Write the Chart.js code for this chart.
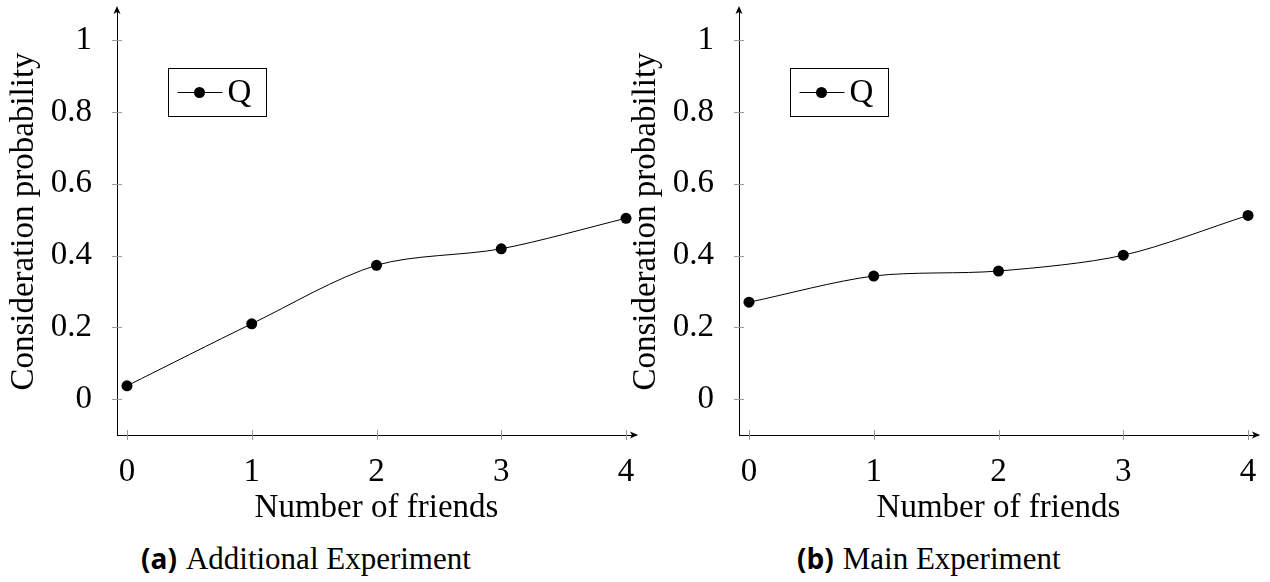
<!DOCTYPE html>
<html>
<head>
<meta charset="utf-8">
<script src="https://cdn.jsdelivr.net/npm/chart.js@4"></script>
<style>
  body { margin: 0; background: #fff; width: 1270px; height: 582px; overflow: hidden; position: relative; }
  .panel { position: absolute; top: 0; height: 530px; }
  .caption { position: absolute; top: 539px; font-family: "Liberation Serif", serif; font-size: 31px; white-space: nowrap; }
  .caption b { font-family: "Open Sans", sans-serif; font-weight: 700; font-size: 28px; margin-right: 9px; }
</style>
</head>
<body>
<div class="panel" style="left:0;width:650px"><canvas id="chartA" width="650" height="530"></canvas></div>
<div class="panel" style="left:622px;width:648px"><canvas id="chartB" width="648" height="530"></canvas></div>
<div class="caption" style="left:141px"><b>(a)</b>Additional Experiment</div>
<div class="caption" style="left:797px"><b>(b)</b>Main Experiment</div>
<script>
// number of friends on the x axis
var friends = [0, 1, 2, 3, 4];
// consideration probability, one array per experiment
var additionalExp = [0.037, 0.21, 0.373, 0.419, 0.504];
var mainExp = [0.27, 0.343, 0.357, 0.401, 0.512];
var seriesLabel = 'Q';
var yTicks = [0, 0.2, 0.4, 0.6, 0.8, 1];
var yTickLabels = ['0', '0.2', '0.4', '0.6', '0.8', '1'];
var xTicks = [0, 1, 2, 3, 4];
var xTickLabels = ['0', '1', '2', '3', '4'];

var serif = '"Liberation Serif", serif';

// pgfplots-ish axis: arrows, crossing tick marks, boxed legend inside the plot
var axisDeco = {
    id: 'axisDeco',
    afterDraw: function (chart) {
        var c = chart.ctx, a = chart.chartArea;
        var xs = chart.scales.x, ys = chart.scales.y;
        c.save();
        // tick marks
        c.strokeStyle = '#999';
        c.lineWidth = 1;
        xs.ticks.forEach(function (t) {
            var px = Math.round(xs.getPixelForValue(t.value)) + 0.5;
            c.beginPath(); c.moveTo(px, a.bottom - 5); c.lineTo(px, a.bottom + 5); c.stroke();
        });
        ys.ticks.forEach(function (t) {
            var py = Math.round(ys.getPixelForValue(t.value)) + 0.5;
            c.beginPath(); c.moveTo(a.left - 5, py); c.lineTo(a.left + 5, py); c.stroke();
        });
        // arrow heads
        c.strokeStyle = '#000';
        c.fillStyle = '#000';
        c.beginPath();
        c.moveTo(a.right + 2, a.bottom); c.lineTo(a.right - 6, a.bottom - 3.5); c.lineTo(a.right - 4, a.bottom); c.lineTo(a.right - 6, a.bottom + 3.5);
        c.closePath(); c.fill();
        c.beginPath();
        c.moveTo(a.left, a.top - 2); c.lineTo(a.left - 3.5, a.top + 6); c.lineTo(a.left, a.top + 4); c.lineTo(a.left + 3.5, a.top + 6);
        c.closePath(); c.fill();
        // legend box
        var bx = a.left + 51.5, by = a.top + 60.5, bw = 98, bh = 48;
        c.fillStyle = '#fff';
        c.fillRect(bx, by, bw, bh);
        c.strokeRect(bx, by, bw, bh);
        var cy = by + bh / 2;
        c.beginPath(); c.moveTo(bx + 9, cy); c.lineTo(bx + 54, cy); c.stroke();
        c.fillStyle = '#000';
        c.beginPath(); c.arc(bx + 31, cy, 5.5, 0, Math.PI * 2); c.fill();
        c.font = '33px ' + serif;
        c.textBaseline = 'middle';
        c.fillText(chart.data.datasets[0].label, bx + 59, cy + 1);
        c.restore();
    }
};

function makeChart(id, values, padRight) {
    var pts = friends.map(function (f, i) { return { x: f, y: values[i] }; });
    return new Chart(document.getElementById(id), {
        type: 'line',
        data: {
            datasets: [{
                label: seriesLabel,
                data: pts,
                borderColor: '#000',
                borderWidth: 1,
                backgroundColor: '#000',
                pointRadius: 5.5,
                pointBackgroundColor: '#000',
                pointBorderWidth: 0,
                tension: 0.3,
                clip: false
            }]
        },
        options: {
            responsive: false,
            animation: false,
            events: [],
            layout: { padding: { top: 8, right: padRight, left: 0, bottom: 0 } },
            plugins: { legend: { display: false }, tooltip: { enabled: false } },
            scales: {
                x: {
                    type: 'linear',
                    min: -0.08,
                    max: 4.08,
                    afterFit: function (s) { s.height = 95; s.paddingLeft = 0; s.paddingRight = 0; },
                    afterBuildTicks: function (s) { s.ticks = xTicks.map(function (v) { return { value: v }; }); },
                    grid: { display: false },
                    border: { color: '#000', width: 1 },
                    ticks: {
                        padding: 10,
                        color: '#000',
                        font: { family: serif, size: 33 },
                        callback: function (v) { return xTickLabels[xTicks.indexOf(v)]; }
                    },
                    title: {
                        display: true,
                        text: 'Number of friends',
                        color: '#000',
                        font: { family: serif, size: 33 },
                        padding: { top: 0, bottom: 2 }
                    }
                },
                y: {
                    min: -0.1,
                    max: 1.09,
                    afterFit: function (s) { s.width = 117; s.paddingTop = 0; s.paddingBottom = 0; },
                    afterBuildTicks: function (s) { s.ticks = yTicks.map(function (v) { return { value: v }; }); },
                    grid: { display: false },
                    border: { color: '#000', width: 1 },
                    ticks: {
                        padding: 17,
                        color: '#000',
                        font: { family: serif, size: 33 },
                        callback: function (v) { return yTickLabels[yTicks.indexOf(v)]; }
                    },
                    title: {
                        display: true,
                        text: 'Consideration probability',
                        color: '#000',
                        font: { family: serif, size: 33 },
                        padding: { top: 5, bottom: 0 }
                    }
                }
            }
        },
        plugins: [axisDeco]
    });
}

makeChart('chartA', additionalExp, 14);
makeChart('chartB', mainExp, 12);
</script>
</body>
</html>
